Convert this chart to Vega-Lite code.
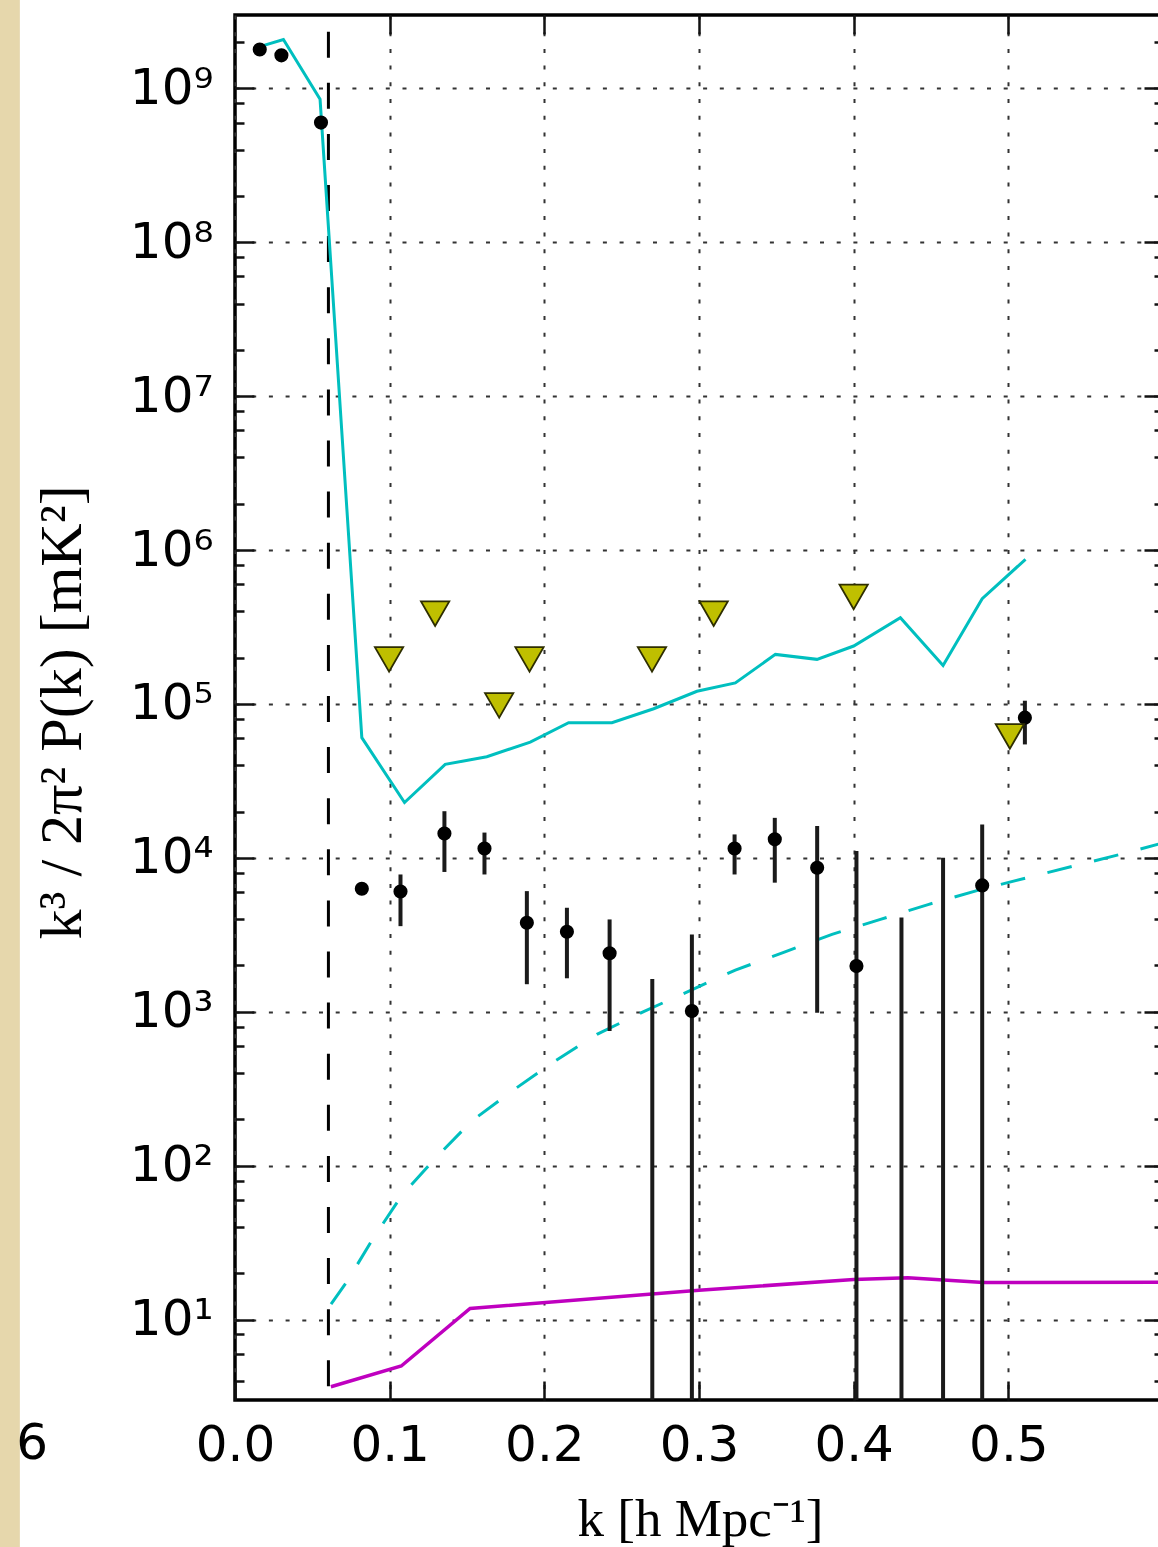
{
  "$schema": "https://vega.github.io/schema/vega-lite/v6.json",
  "width": 928,
  "height": 1385,
  "autosize": {"type": "none"},
  "padding": {"left": 235, "top": 15, "right": -5, "bottom": 147},
  "background": "white",
  "config": {
    "view": {"stroke": "black", "strokeWidth": 3.5},
    "axis": {
      "domain": false,
      "labelFlush": false,
      "labelOverlap": false,
      "labelColor": "black",
      "labelFont": "DejaVu Sans",
      "labelFontSize": 50,
      "tickColor": "#111",
      "tickWidth": 2.5,
      "gridColor": "#333",
      "gridDash": [4, 12.7],
      "gridWidth": 2,
      "titleColor": "black",
      "titleFontWeight": "normal"
    }
  },
  "datasets": {
    "cut": [{"k": 0.0604}],
    "bandpowers": [
      {"k": 0.016, "p": 1.79e9, "lo": null, "hi": null},
      {"k": 0.030, "p": 1.64e9, "lo": null, "hi": null},
      {"k": 0.0556, "p": 6.0e8, "lo": null, "hi": null},
      {"k": 0.082, "p": 6.3e3, "lo": null, "hi": null},
      {"k": 0.107, "p": 6.05e3, "lo": 3.6e3, "hi": 7.8e3},
      {"k": 0.1354, "p": 1.44e4, "lo": 8.1e3, "hi": 2.01e4},
      {"k": 0.1613, "p": 1.15e4, "lo": 7.8e3, "hi": 1.46e4},
      {"k": 0.1887, "p": 3.79e3, "lo": 1.51e3, "hi": 6.08e3},
      {"k": 0.2146, "p": 3.31e3, "lo": 1.65e3, "hi": 4.74e3},
      {"k": 0.2422, "p": 2.40e3, "lo": 750, "hi": 3.98e3},
      {"k": 0.2698, "p": null, "lo": 1, "hi": 1.63e3},
      {"k": 0.2954, "p": 1.01e3, "lo": 1, "hi": 3.18e3},
      {"k": 0.323, "p": 1.15e4, "lo": 7.8e3, "hi": 1.42e4},
      {"k": 0.349, "p": 1.32e4, "lo": 6.9e3, "hi": 1.82e4},
      {"k": 0.3764, "p": 8.63e3, "lo": 986, "hi": 1.61e4},
      {"k": 0.4018, "p": 1.98e3, "lo": 1, "hi": 1.11e4},
      {"k": 0.4309, "p": null, "lo": 1, "hi": 4.09e3},
      {"k": 0.4578, "p": null, "lo": 1, "hi": 1.0e4},
      {"k": 0.4831, "p": 6.62e3, "lo": 1, "hi": 1.65e4},
      {"k": 0.5107, "p": 8.15e4, "lo": 5.46e4, "hi": 1.05e5}
    ],
    "limits": [
      {"k": 0.0996, "p": 1.95e5},
      {"k": 0.1294, "p": 3.86e5},
      {"k": 0.1708, "p": 9.8e4},
      {"k": 0.1904, "p": 1.95e5},
      {"k": 0.2696, "p": 1.95e5},
      {"k": 0.3095, "p": 3.86e5},
      {"k": 0.400, "p": 4.96e5},
      {"k": 0.501, "p": 6.15e4}
    ],
    "solid_curve": [
      {"k": 0.016, "p": 1.87e9},
      {"k": 0.0313, "p": 2.08e9},
      {"k": 0.055, "p": 8.5e8},
      {"k": 0.082, "p": 6.04e4},
      {"k": 0.1096, "p": 2.29e4},
      {"k": 0.1359, "p": 4.05e4},
      {"k": 0.1628, "p": 4.54e4},
      {"k": 0.1909, "p": 5.65e4},
      {"k": 0.2157, "p": 7.55e4},
      {"k": 0.2437, "p": 7.55e4},
      {"k": 0.2707, "p": 9.31e4},
      {"k": 0.2987, "p": 1.21e5},
      {"k": 0.3235, "p": 1.37e5},
      {"k": 0.3494, "p": 2.10e5},
      {"k": 0.3763, "p": 1.95e5},
      {"k": 0.400, "p": 2.38e5},
      {"k": 0.4302, "p": 3.64e5},
      {"k": 0.4578, "p": 1.78e5},
      {"k": 0.4831, "p": 4.83e5},
      {"k": 0.5111, "p": 8.71e5}
    ],
    "dashed_curve": [
      {"k": 0.0621, "p": 12.6},
      {"k": 0.0725, "p": 17.7},
      {"k": 0.0893, "p": 33.7},
      {"k": 0.1079, "p": 64.1},
      {"k": 0.130, "p": 113},
      {"k": 0.1531, "p": 195},
      {"k": 0.179, "p": 305},
      {"k": 0.207, "p": 479},
      {"k": 0.234, "p": 713},
      {"k": 0.2642, "p": 1002},
      {"k": 0.3235, "p": 1866},
      {"k": 0.3552, "p": 2443},
      {"k": 0.386, "p": 3184},
      {"k": 0.4173, "p": 3981},
      {"k": 0.4486, "p": 4989},
      {"k": 0.4809, "p": 6180},
      {"k": 0.5122, "p": 7430},
      {"k": 0.5446, "p": 8974},
      {"k": 0.5769, "p": 10814},
      {"k": 0.600, "p": 12500}
    ],
    "floor_curve": [
      {"k": 0.062, "p": 3.66},
      {"k": 0.1075, "p": 4.99},
      {"k": 0.152, "p": 11.8},
      {"k": 0.300, "p": 15.5},
      {"k": 0.400, "p": 18.2},
      {"k": 0.435, "p": 18.7},
      {"k": 0.484, "p": 17.4},
      {"k": 0.600, "p": 17.5}
    ]
  },
  "layer": [
    {
      "data": {"values": [{}]},
      "mark": {"type": "rect", "color": "#e6d7ac"},
      "encoding": {
        "x": {"datum": -0.2, "type": "quantitative", "scale": {"domain": [0, 0.6], "nice": false, "zero": false}, "axis": null},
        "x2": {"datum": -0.1391},
        "y": {"datum": 1e10, "type": "quantitative", "scale": {"type": "log", "domain": [3, 3e9], "nice": false}, "axis": null},
        "y2": {"datum": 0.01}
      }
    },
    {
      "data": {"values": [{}]},
      "mark": {"type": "text", "text": "6", "font": "DejaVu Sans", "fontSize": 50, "align": "center", "baseline": "top", "color": "black"},
      "encoding": {
        "x": {"datum": -0.1312, "type": "quantitative", "axis": null},
        "y": {"datum": 2.247, "type": "quantitative", "axis": null}
      }
    },
    {
      "data": {"name": "cut"},
      "mark": {"type": "rule", "color": "black", "strokeWidth": 3, "strokeDash": [26, 25.1], "strokeDashOffset": 34.4},
      "encoding": {
        "x": {"field": "k", "type": "quantitative", "axis": null}
      }
    },
    {
      "data": {"name": "floor_curve"},
      "mark": {"type": "line", "color": "#bf00bf", "strokeWidth": 3.5},
      "encoding": {
        "x": {
          "field": "k", "type": "quantitative",
          "axis": {
            "orient": "bottom",
            "values": [0, 0.1, 0.2, 0.3, 0.4, 0.5],
            "format": ".1f",
            "tickSize": -19,
            "labelPadding": 39,
            "grid": true,
            "title": "k [h Mpc⁻¹]",
            "titleFont": "Liberation Serif",
            "titleFontSize": 53,
            "titleX": 465,
            "titleY": 135,
            "titleAlign": "center",
            "titleBaseline": "alphabetic"
          }
        },
        "y": {
          "field": "p", "type": "quantitative",
          "axis": {
            "orient": "left",
            "values": [10, 100, 1000, 10000, 100000, 1000000, 10000000, 100000000, 1000000000],
            "labelExpr": "'10' + ['⁰','¹','²','³','⁴','⁵','⁶','⁷','⁸','⁹'][round(log(datum.value) / LN10)]",
            "tickSize": -19,
            "labelPadding": 41,
            "grid": true,
            "title": "k³ / 2π²   P(k)  [mK²]",
            "titleFont": "Liberation Serif",
            "titleFontSize": 60,
            "titleAngle": -90,
            "titleX": -173,
            "titleY": 697,
            "titleAlign": "center",
            "titleBaseline": "middle"
          }
        }
      }
    },
    {
      "data": {"name": "dashed_curve"},
      "mark": {"type": "line", "color": "#00bfbf", "strokeWidth": 3, "strokeDash": [25, 23]},
      "encoding": {
        "x": {
          "field": "k", "type": "quantitative",
          "axis": {"orient": "top", "values": [0.1, 0.2, 0.3, 0.4, 0.5], "labels": false, "tickSize": -19, "grid": false, "title": null}
        },
        "y": {
          "field": "p", "type": "quantitative",
          "axis": {
            "orient": "left",
            "values": [4, 6, 8, 20, 40, 60, 80, 200, 400, 600, 800, 2000, 4000, 6000, 8000, 20000, 40000, 60000, 80000, 200000, 400000, 600000, 800000, 2000000, 4000000, 6000000, 8000000, 20000000, 40000000, 60000000, 80000000, 200000000, 400000000, 600000000, 800000000, 2000000000],
            "labels": false, "tickSize": -9, "grid": false, "title": null
          }
        }
      }
    },
    {
      "data": {"name": "solid_curve"},
      "mark": {"type": "line", "color": "#00bfbf", "strokeWidth": 3},
      "encoding": {
        "x": {"field": "k", "type": "quantitative", "axis": null},
        "y": {
          "field": "p", "type": "quantitative",
          "axis": {
            "orient": "right",
            "values": [10, 100, 1000, 10000, 100000, 1000000, 10000000, 100000000, 1000000000],
            "labels": false, "tickSize": -19, "grid": false, "title": null
          }
        }
      }
    },
    {
      "data": {"name": "bandpowers"},
      "transform": [{"filter": "datum.hi != null"}],
      "mark": {"type": "rule", "color": "#1a1a1a", "strokeWidth": 4, "clip": true},
      "encoding": {
        "x": {"field": "k", "type": "quantitative", "axis": null},
        "y": {
          "field": "lo", "type": "quantitative",
          "axis": {
            "orient": "right",
            "values": [4, 6, 8, 20, 40, 60, 80, 200, 400, 600, 800, 2000, 4000, 6000, 8000, 20000, 40000, 60000, 80000, 200000, 400000, 600000, 800000, 2000000, 4000000, 6000000, 8000000, 20000000, 40000000, 60000000, 80000000, 200000000, 400000000, 600000000, 800000000, 2000000000],
            "labels": false, "tickSize": -9, "grid": false, "title": null
          }
        },
        "y2": {"field": "hi"}
      }
    },
    {
      "data": {"name": "bandpowers"},
      "mark": {"type": "point", "shape": "circle", "filled": true, "color": "black", "size": 200, "opacity": 1},
      "encoding": {
        "x": {"field": "k", "type": "quantitative", "axis": null},
        "y": {"field": "p", "type": "quantitative", "axis": null}
      }
    },
    {
      "data": {"name": "limits"},
      "mark": {"type": "point", "shape": "triangle-down", "filled": true, "fill": "#bfbf00", "stroke": "#2e2e00", "strokeWidth": 1.8, "size": 800, "opacity": 1, "fillOpacity": 1},
      "encoding": {
        "x": {"field": "k", "type": "quantitative", "axis": null},
        "y": {"field": "p", "type": "quantitative", "axis": null}
      }
    }
  ],
  "resolve": {"axis": {"x": "independent", "y": "independent"}}
}
